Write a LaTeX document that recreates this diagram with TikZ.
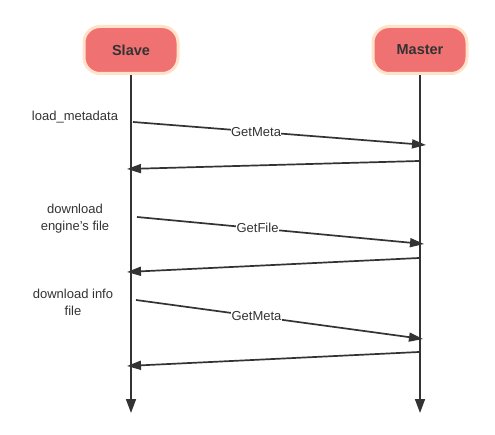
\documentclass[tikz,border=0pt]{standalone}
\usepackage{fontspec}
\setmainfont{Liberation Sans}
\usetikzlibrary{arrows.meta}
\definecolor{boxred}{RGB}{240,113,113}
\definecolor{boxrim}{RGB}{255,226,200}
\definecolor{ink}{RGB}{51,51,51}

\begin{document}
\begin{tikzpicture}[x=1pt,y=-1pt,
    actor/.style={draw=boxrim,line width=3pt,fill=boxred,rounded corners=16pt,
      minimum width=94pt,minimum height=47pt,text=ink,
      font=\bfseries\fontsize{14.5}{17}\selectfont},
    life/.style={draw=ink,line width=1.6pt,-{Triangle[length=14pt,width=10pt]}},
    msg/.style={draw=ink,line width=1.7pt,-{Triangle[length=14pt,width=9pt]}},
    note/.style={text=ink,align=center,font=\fontsize{13}{17}\selectfont},
    tag/.style={pos=0.42,fill=white,inner sep=0.5pt,text=ink,font=\fontsize{13}{15}\selectfont}]
  \useasboundingbox (0,0) rectangle (495,435);
  \node[actor] (slave) at (131,50) {Slave};
  \node[actor] (master) at (420,50) {Master};
  \coordinate (slaveEnd) at (131,413);
  \coordinate (masterEnd) at (420,413);
  \draw[life] (slave.south) -- (slaveEnd);
  \draw[life] (master.south) -- (masterEnd);
  % notes on the left
  \node[note] (load) at (75,117) {load\_metadata};
  \node[note] (engine) at (75,218.5) {download\\engine's file};
  \node[note] (info) at (73,302) {download info\\file};
  % requests and replies
  \coordinate (req1) at (133,122);  \coordinate (got1) at (426,145);
  \coordinate (req2) at (137,217);  \coordinate (got2) at (424,244);
  \coordinate (req3) at (136,300);  \coordinate (got3) at (423,339);
  \coordinate (ans1) at (419,161);  \coordinate (back1) at (127,169);
  \coordinate (ans2) at (419,258);  \coordinate (back2) at (127,272);
  \coordinate (ans3) at (419,352);  \coordinate (back3) at (127,366);
  \draw[msg] (req1) -- (got1) node[tag] {GetMeta};
  \draw[msg] (req2) -- (got2) node[tag] {GetFile};
  \draw[msg] (req3) -- (got3) node[tag] {GetMeta};
  \foreach \k in {1,2,3}
    \draw[msg] (ans\k) -- (back\k);
\end{tikzpicture}
\end{document}
